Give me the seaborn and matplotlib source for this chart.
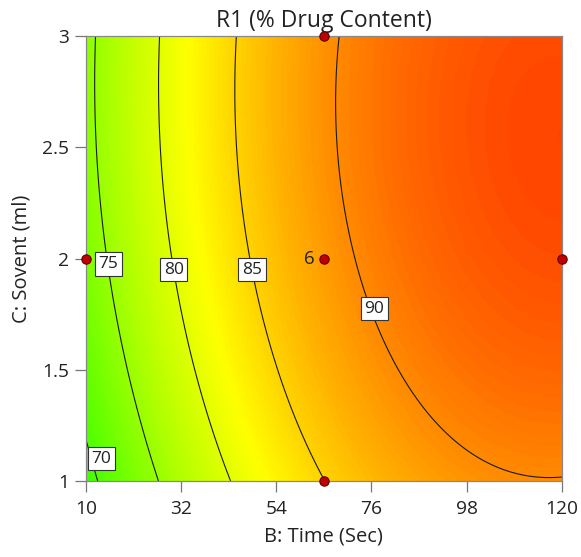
import numpy as np
import matplotlib
matplotlib.use("Agg")
import matplotlib.pyplot as plt
from matplotlib.colors import LinearSegmentedColormap, hsv_to_rgb
import seaborn as sns
import pandas as pd

# Axis ticks
time_ticks = [10, 32, 54, 76, 98, 120]
solvent_ticks = [1, 1.5, 2, 2.5, 3]
solvent_tick_labels = ["1", "1.5", "2", "2.5", "3"]

# Factor ranges (actual units)
time_range = [10, 120]
solvent_range = [1, 3]

# Fitted response model in coded units A (time) and B (solvent)
model_terms = ["1", "A", "B", "AB", "A2", "B2", "AB2", "A2B", "A2B2"]
model_coefs = [88.73, 10.4, 2.21, -0.24, -5.1, -1.56, -0.17, 0.17, -0.27]

# Contour levels and label anchor points
contour_levels = [70, 75, 80, 85, 90]
label_time = [13.6, 15.2, 30.3, 48.4, 76.7]
label_solvent = [1.10, 1.975, 1.95, 1.95, 1.775]

# Design points
design_time = [10, 65, 65, 65, 120]
design_solvent = [2, 3, 2, 1, 2]
center_replicates = "6"

# Colour scale limits (hue runs blue -> green -> yellow -> red)
color_limits = [29.8, 99.5]

sns.set_style("ticks")
plt.rcParams["font.family"] = ["Open Sans", "DejaVu Sans"]


def response(t, s):
    a = (t - 65.0) / 55.0
    b = s - 2.0
    basis = {
        "1": np.ones_like(a), "A": a, "B": b, "AB": a * b,
        "A2": a ** 2, "B2": b ** 2, "AB2": a * b ** 2,
        "A2B": a ** 2 * b, "A2B2": a ** 2 * b ** 2,
    }
    return sum(c * basis[n] for n, c in zip(model_terms, model_coefs))


t = np.linspace(time_range[0], time_range[1], 400)
s = np.linspace(solvent_range[0], solvent_range[1], 400)
T, S = np.meshgrid(t, s)
R = response(T, S)

hues = np.linspace(240, 0, 256) / 360.0
rgb = hsv_to_rgb(np.stack([hues, np.ones_like(hues), np.ones_like(hues)], axis=1))
cmap = LinearSegmentedColormap.from_list("de_ramp", rgb)

fig = plt.figure(figsize=(5.81, 5.57), dpi=100)
ax = fig.add_axes([0.148, 0.1364, 0.819, 0.799])

ax.imshow(R, origin="lower", extent=[*time_range, *solvent_range], aspect="auto",
          cmap=cmap, vmin=color_limits[0], vmax=color_limits[1], interpolation="bilinear")

cs = ax.contour(T, S, R, levels=contour_levels, colors="#1a1a1a", linewidths=0.8)
anchors = list(zip(label_time, label_solvent))
labels = ax.clabel(cs, fmt="%d", inline=False, fontsize=12.5, manual=anchors)
for lab in labels:
    val = float(lab.get_text())
    lab.set_position(anchors[contour_levels.index(int(val))])
    lab.set_rotation(0)
    lab.set_color("#222222")
    lab.set_bbox(dict(facecolor="white", edgecolor="#333333", linewidth=0.8, pad=2.6))
    lab.set_zorder(5)

pts = pd.DataFrame({"time": design_time, "solvent": design_solvent})
sns.scatterplot(data=pts, x="time", y="solvent", ax=ax, color="#c00000",
                edgecolor="#5a0000", linewidth=0.8, s=45, zorder=6, legend=False)
ax.collections[-1].set_clip_on(False)
ax.text(design_time[2] - 2.2, design_solvent[2], center_replicates, ha="right",
        va="center", fontsize=13.5, color="#222222", zorder=6)

ax.set_xlim(*time_range)
ax.set_ylim(*solvent_range)
ax.set_xticks(time_ticks)
ax.set_xticklabels([str(v) for v in time_ticks])
ax.set_yticks(solvent_ticks)
ax.set_yticklabels(solvent_tick_labels)
ax.tick_params(axis="both", length=8, width=0.9, color="#777777", labelsize=13.8,
               labelcolor="#222222")
ax.tick_params(axis="x", pad=6)
ax.tick_params(axis="y", pad=4)
for sp in ax.spines.values():
    sp.set_color("#888888")
    sp.set_linewidth(0.9)

ax.set_xlabel("B: Time (Sec)", fontsize=14.5, color="#222222", labelpad=6)
ax.set_ylabel("C: Sovent (ml)", fontsize=14.5, color="#222222", labelpad=8)
ax.set_title("R1 (% Drug Content)", fontsize=16.5, color="#222222", pad=6.5)

fig.savefig("out.png", dpi=100)
